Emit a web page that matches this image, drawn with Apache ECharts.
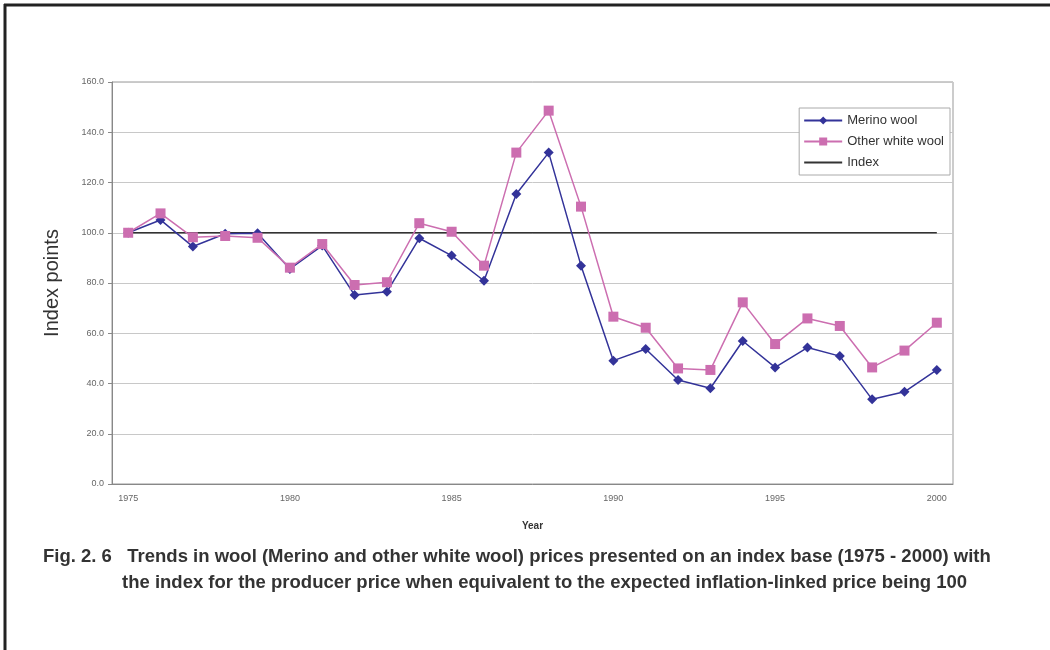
<!DOCTYPE html>
<html>
<head>
<meta charset="utf-8">
<script src="https://cdn.jsdelivr.net/npm/echarts@6/dist/echarts.min.js"></script>
<style>
html, body { margin: 0; padding: 0; background: #fff; }
#maindiv { width: 1050px; height: 650px; }
</style>
</head>
<body>
<div id="maindiv"></div>
<script>
// data
var years = ['1975', '1976', '1977', '1978', '1979', '1980', '1981', '1982', '1983',
    '1984', '1985', '1986', '1987', '1988', '1989', '1990', '1991', '1992', '1993',
    '1994', '1995', '1996', '1997', '1998', '1999', '2000'];
var merinoWool = [100, 105.1, 94.5, 99.6, 99.8, 85.6, 94.9, 75.2, 76.5,
    97.8, 90.9, 80.9, 115.4, 131.9, 86.9, 49.1, 53.7, 41.4, 38.1,
    56.9, 46.4, 54.3, 50.9, 33.7, 36.7, 45.4];
var otherWhiteWool = [100, 107.7, 98.2, 98.7, 98.0, 86.1, 95.5, 79.2, 80.3,
    103.8, 100.4, 86.9, 131.9, 148.6, 110.4, 66.6, 62.2, 46.0, 45.4,
    72.3, 55.7, 65.9, 62.9, 46.4, 53.1, 64.2];
var indexLine = [100, 100, 100, 100, 100, 100, 100, 100, 100,
    100, 100, 100, 100, 100, 100, 100, 100, 100, 100,
    100, 100, 100, 100, 100, 100, 100];
var yTicks = [0, 20, 40, 60, 80, 100, 120, 140, 160];

var captionLine1 = 'Fig. 2. 6   Trends in wool (Merino and other white wool) prices presented on an index base (1975 - 2000) with';
var captionLine2 = 'the index for the producer price when equivalent to the expected inflation-linked price being 100';

var chart = echarts.init(document.getElementById('maindiv'));
var option = {
    backgroundColor: '#fff',
    animation: false,
    title: [
        {
            text: captionLine1, left: 38, top: 542,
            textStyle: { fontFamily: 'Liberation Sans, Arial', fontSize: 18.5, fontWeight: 'bold', color: '#333' }
        },
        {
            text: captionLine2, left: 117, top: 568,
            textStyle: { fontFamily: 'Liberation Sans, Arial', fontSize: 18.5, fontWeight: 'bold', color: '#333' }
        }
    ],
    graphic: [
        { type: 'line', shape: { x1: 4, y1: 5, x2: 1050, y2: 5 }, style: { stroke: '#222', lineWidth: 3 } },
        { type: 'line', shape: { x1: 5, y1: 4, x2: 5, y2: 650 }, style: { stroke: '#222', lineWidth: 3 } }
    ],
    legend: {
        orient: 'vertical',
        right: 100,
        top: 108,
        itemGap: 8,
        itemWidth: 38,
        itemHeight: 10,
        padding: [6, 6, 6, 4],
        borderColor: '#aaa',
        borderWidth: 1,
        backgroundColor: '#fff',
        textStyle: { fontFamily: 'Liberation Sans, Arial', fontSize: 13, color: '#333' },
        data: ['Merino wool', 'Other white wool', { name: 'Index', itemStyle: { opacity: 0 } }]
    },
    grid: {
        left: 112, right: 97, top: 82, bottom: 166,
        show: true, borderColor: '#999', borderWidth: 1
    },
    xAxis: {
        type: 'category',
        data: years,
        boundaryGap: true,
        name: 'Year',
        nameLocation: 'middle',
        nameGap: 37,
        nameTextStyle: { fontFamily: 'Liberation Sans, Arial', fontSize: 10, fontWeight: 'bold', color: '#333' },
        axisLine: { lineStyle: { color: '#888' } },
        axisTick: { interval: 0, length: 4, lineStyle: { color: '#888' } },
        axisLabel: { interval: 4, fontSize: 9, color: '#666', margin: 10, fontFamily: 'Liberation Sans, Arial' }
    },
    yAxis: {
        type: 'value',
        min: yTicks[0],
        max: yTicks[yTicks.length - 1],
        interval: 20,
        name: 'Index points',
        nameLocation: 'middle',
        nameGap: 50,
        nameTextStyle: { fontFamily: 'Liberation Sans, Arial', fontSize: 20, color: '#333' },
        axisLine: { show: true, lineStyle: { color: '#888' } },
        axisTick: { show: true, length: 4, lineStyle: { color: '#888' } },
        axisLabel: {
            fontSize: 9, color: '#666', margin: 8, fontFamily: 'Liberation Sans, Arial',
            formatter: function (v) { return v.toFixed(1); }
        },
        splitLine: { lineStyle: { color: '#c8c8c8' } }
    },
    series: [
        {
            name: 'Merino wool',
            type: 'line',
            data: merinoWool,
            symbol: 'diamond',
            symbolSize: 10,
            z: 3,
            lineStyle: { color: '#333399', width: 1.5 },
            itemStyle: { color: '#333399' }
        },
        {
            name: 'Other white wool',
            type: 'line',
            data: otherWhiteWool,
            symbol: 'rect',
            symbolSize: 10,
            z: 4,
            lineStyle: { color: '#cc6eb0', width: 1.5 },
            itemStyle: { color: '#cc6eb0' }
        },
        {
            name: 'Index',
            type: 'line',
            data: indexLine,
            symbol: 'none',
            z: 2,
            lineStyle: { color: '#333', width: 1.5 },
            itemStyle: { color: '#333' }
        }
    ]
};
chart.setOption(option);
</script>
</body>
</html>
